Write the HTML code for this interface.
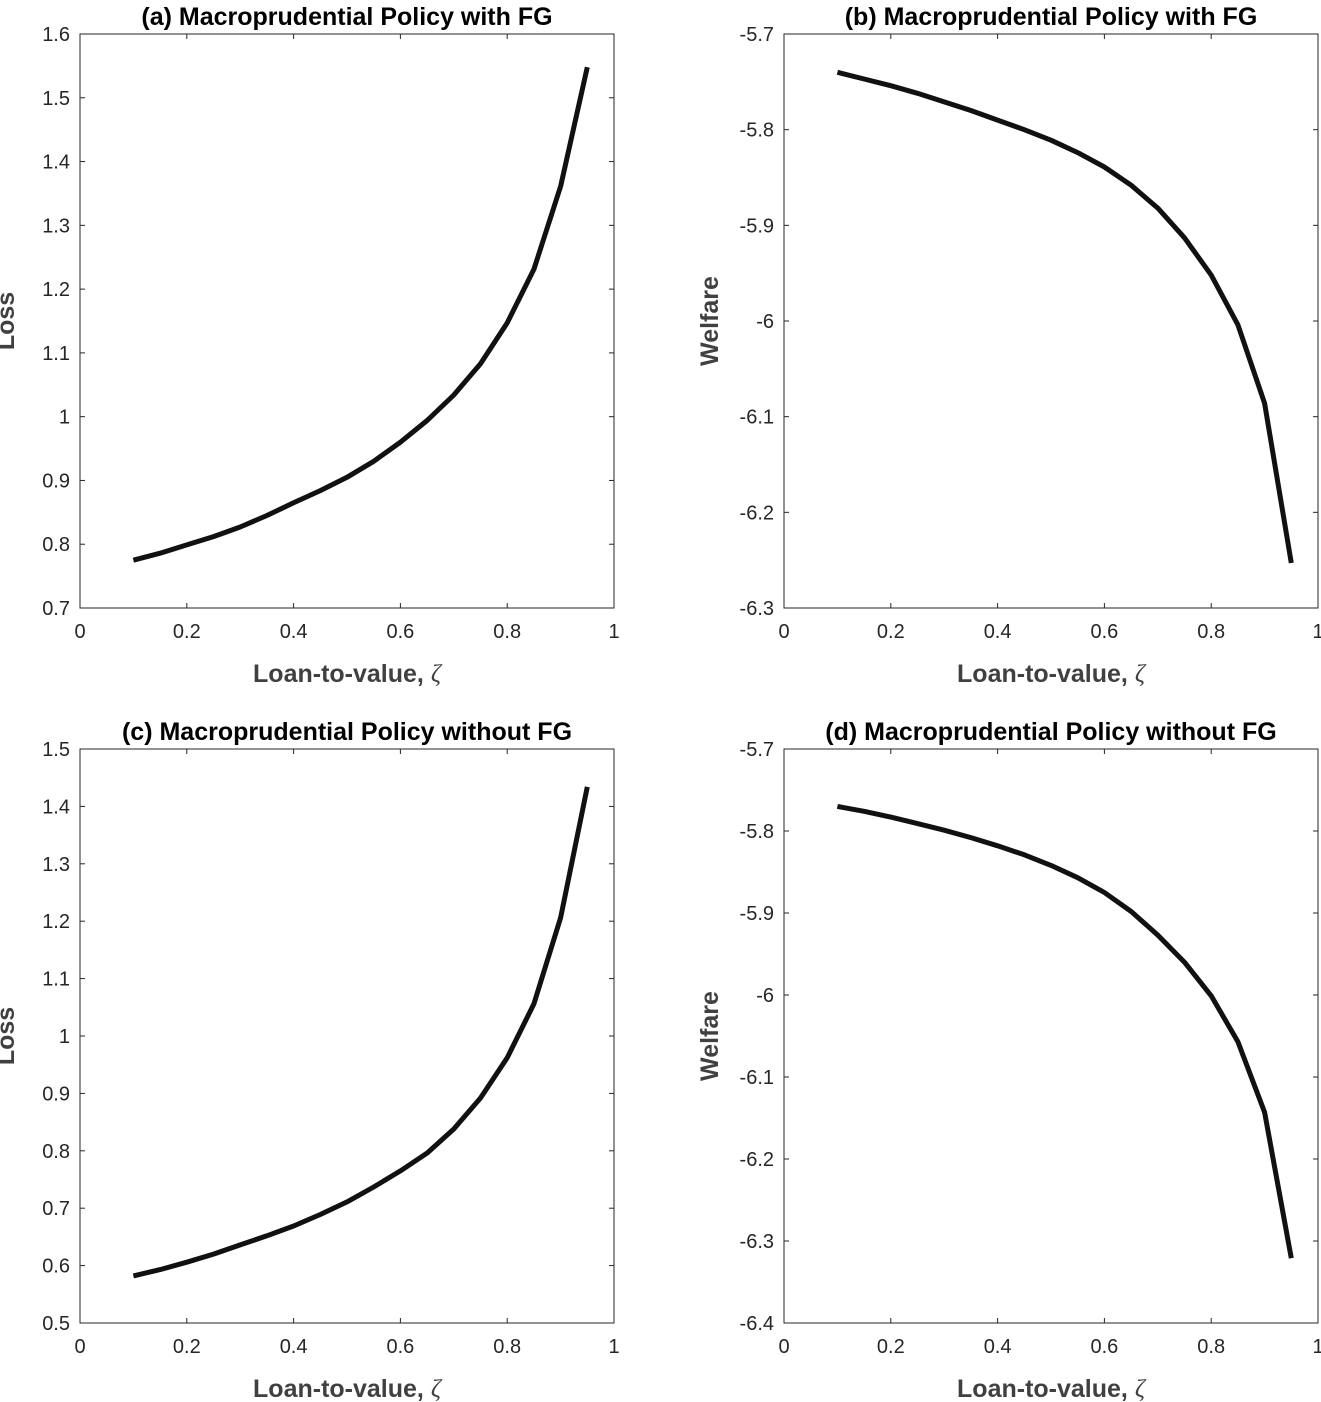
<!DOCTYPE html>
<html><head><meta charset="utf-8"><style>
html,body{margin:0;padding:0;background:#fff;}
svg{display:block;font-family:"Liberation Sans",sans-serif;}
</style></head><body>
<svg id="chart" width="1321" height="1402"></svg>
<script>
const xVals=[0.1,0.15,0.2,0.25,0.3,0.35,0.4,0.45,0.5,0.55,0.6,0.65,0.7,0.75,0.8,0.85,0.9,0.95];
const lossFG=[0.775,0.786,0.799,0.812,0.827,0.845,0.865,0.884,0.905,0.93,0.96,0.994,1.034,1.083,1.147,1.231,1.361,1.548];
const welfFG=[-5.740,-5.747,-5.754,-5.762,-5.771,-5.780,-5.790,-5.800,-5.811,-5.824,-5.839,-5.858,-5.882,-5.913,-5.952,-6.004,-6.086,-6.253];
const lossNoFG=[0.582,0.593,0.606,0.62,0.636,0.652,0.669,0.689,0.711,0.737,0.765,0.796,0.838,0.892,0.962,1.056,1.206,1.434];
const welfNoFG=[-5.770,-5.776,-5.783,-5.791,-5.799,-5.808,-5.818,-5.829,-5.842,-5.857,-5.875,-5.898,-5.927,-5.960,-6.001,-6.057,-6.143,-6.321];
const xTicks=[0,0.2,0.4,0.6,0.8,1];
const yTicksA=[0.7,0.8,0.9,1,1.1,1.2,1.3,1.4,1.5,1.6];
const yTicksB=[-6.3,-6.2,-6.1,-6,-5.9,-5.8,-5.7];
const yTicksC=[0.5,0.6,0.7,0.8,0.9,1,1.1,1.2,1.3,1.4,1.5];
const yTicksD=[-6.4,-6.3,-6.2,-6.1,-6,-5.9,-5.8,-5.7];
const NS="http://www.w3.org/2000/svg";
const svg=document.getElementById('chart');
function mk(t,a,p){const e=document.createElementNS(NS,t);for(const k in a)e.setAttribute(k,a[k]);(p||svg).appendChild(e);return e;}
function panel(id,x0,x1,y0,y1,ymin,ymax,yt,ys,title,ylab){
  const g=mk('g',{});
  
  
  const sx=v=>x0+(x1-x0)*v;
  const sy=v=>y1-(y1-y0)*(v-ymin)/(ymax-ymin);
  const box=mk('rect',{x:x0,y:y0,width:x1-x0,height:y1-y0,fill:'none',stroke:'#262626','stroke-width':1},g);
  
  
  xTicks.forEach(t=>{
    mk('line',{x1:sx(t),x2:sx(t),y1:y1,y2:y1-5,stroke:'#262626'},g);
    mk('line',{x1:sx(t),x2:sx(t),y1:y0,y2:y0+5,stroke:'#262626'},g);
    const tx=mk('text',{x:sx(t),y:y1+30,'text-anchor':'middle','font-size':20,fill:'#262626'},g);
    tx.textContent=String(t);
    
    
  });
  yt.forEach(t=>{
    mk('line',{x1:x0,x2:x0+5,y1:sy(t),y2:sy(t),stroke:'#262626'},g);
    mk('line',{x1:x1,x2:x1-5,y1:sy(t),y2:sy(t),stroke:'#262626'},g);
    const tx=mk('text',{x:x0-10,y:sy(t)+7,'text-anchor':'end','font-size':20,fill:'#262626'},g);
    tx.textContent=String(t);
    
    
  });
  const d=xVals.map((v,i)=>(i?'L':'M')+sx(v).toFixed(1)+' '+sy(ys[i]).toFixed(1)).join(' ');
  const p=mk('path',{d:d,fill:'none',stroke:'#111','stroke-width':5,'stroke-linejoin':'round'},g);
  
  
  const ti=mk('text',{x:(x0+x1)/2,y:y0-9,'text-anchor':'middle','font-size':25,'font-weight':'bold',fill:'#000'},g);
  ti.textContent=title;
  
  
  const xl=mk('text',{x:(x0+x1)/2,y:y1+74,'text-anchor':'middle','font-size':25,'font-weight':'bold',fill:'#404040'},g);
  xl.innerHTML='Loan-to-value, <tspan font-style="italic" font-weight="normal" font-family="Liberation Serif">ζ</tspan>';
  
  
  const cy=(y0+y1)/2;
  const yl=mk('text',{x:x0-66,y:cy,'text-anchor':'middle','font-size':25,'font-weight':'bold',fill:'#404040',transform:`rotate(-90 ${x0-66} ${cy})`},g);
  yl.textContent=ylab;
  
  
}
panel('a',80,614,34,608,0.7,1.6,yTicksA,lossFG,'(a) Macroprudential Policy with FG','Loss');
panel('b',784,1318,34,608,-6.3,-5.7,yTicksB,welfFG,'(b) Macroprudential Policy with FG','Welfare');
panel('c',80,614,749,1323,0.5,1.5,yTicksC,lossNoFG,'(c) Macroprudential Policy without FG','Loss');
panel('d',784,1318,749,1323,-6.4,-5.7,yTicksD,welfNoFG,'(d) Macroprudential Policy without FG','Welfare');
</script>
</body></html>
